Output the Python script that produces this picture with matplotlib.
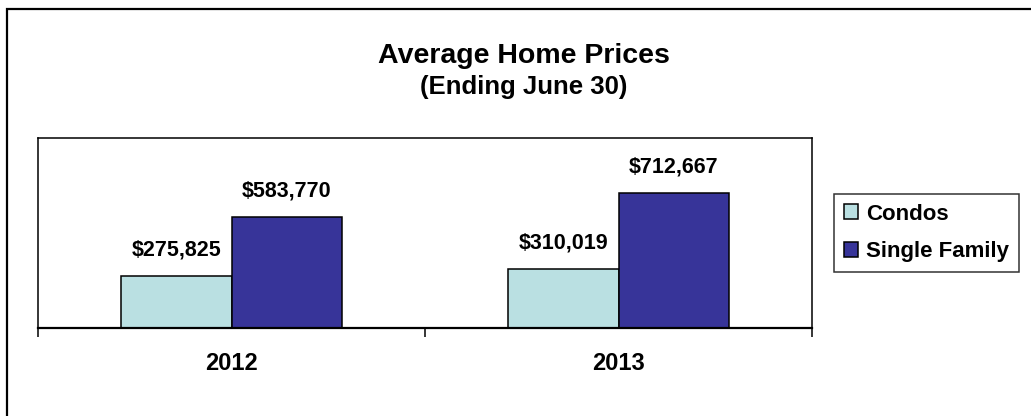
import matplotlib
matplotlib.use("Agg")
import matplotlib.pyplot as plt
from matplotlib.patches import Rectangle, Patch
import numpy as np

plt.rcParams['font.family'] = ['Liberation Sans', 'DejaVu Sans']
plt.rcParams['font.weight'] = 'bold'

years = ["2012", "2013"]
condos = [275825, 310019]
single_family = [583770, 712667]
series_names = ["Condos", "Single Family"]
series_colors = ["#BAE0E2", "#373499"]

W, H = 1031, 416
fig = plt.figure(figsize=(W / 100, H / 100), dpi=100)

# outer chart border (only top/left edges fall inside the image)
fig.patches.append(Rectangle((7 / W, -0.2), 1.2, 1.2 - 9 / H, transform=fig.transFigure,
                             fill=False, edgecolor='black', linewidth=1.6, zorder=0))

ax = fig.add_axes([38 / W, 1 - 328 / H, (812 - 38) / W, (328 - 138) / H])

x = np.arange(len(years))
bw = 0.2857
b1 = ax.bar(x - bw / 2, condos, bw, color=series_colors[0], edgecolor='black', linewidth=1.1)
b2 = ax.bar(x + bw / 2, single_family, bw, color=series_colors[1], edgecolor='black', linewidth=1.1)

for bars, vals in ((b1, condos), (b2, single_family)):
    for rect, v in zip(bars, vals):
        ax.annotate("${:,}".format(v), (rect.get_x() + rect.get_width() / 2, v),
                    xytext=(0, 14.5), textcoords='offset points',
                    ha='center', va='baseline', fontsize=15.5, fontweight='bold')

ax.set_xlim(-0.5, 1.5)
ax.set_ylim(0, 1000000)
ax.set_yticks([])
ax.set_xticks(x)
ax.set_xticklabels(years, fontsize=17, fontweight='bold')
ax.set_xticks([-0.5, 0.5, 1.5], minor=True)
ax.tick_params(axis='x', which='major', length=0, pad=17)
ax.tick_params(axis='x', which='minor', length=6.5, width=1.1, direction='out')
for s in ax.spines.values():
    s.set_linewidth(1.1)
ax.spines['bottom'].set_linewidth(1.6)

fig.text(524 / W, 1 - 63 / H, "Average Home Prices", ha='center', va='baseline',
         fontsize=20.5, fontweight='bold')
fig.text(524 / W, 1 - 94 / H, "(Ending June 30)", ha='center', va='baseline',
         fontsize=18.5, fontweight='bold')

handles = [Patch(facecolor=c, edgecolor='black', linewidth=1.1) for c in series_colors]
leg = fig.legend(handles, series_names, loc='center',
                 bbox_to_anchor=((833 + 1020) / 2 / W, 1 - 233 / H),
                 prop={'weight': 'bold', 'size': 16},
                 fancybox=False, frameon=True, edgecolor='black',
                 handlelength=0.65, handleheight=0.65, handletextpad=0.35,
                 labelspacing=0.75, borderpad=0.45, borderaxespad=0)
leg.get_frame().set_linewidth(1.1)

fig.savefig("out.png", dpi=100)
